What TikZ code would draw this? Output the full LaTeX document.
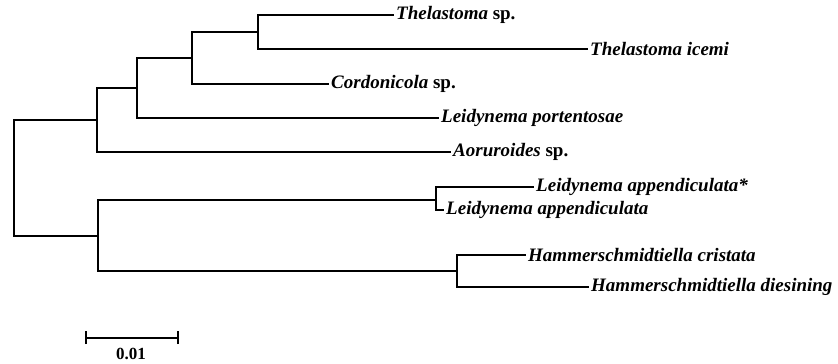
\documentclass[tikz,border=0pt]{standalone}
\usepackage{fontspec}
\setmainfont{Liberation Serif}
\begin{document}
\begin{tikzpicture}[x=1pt,y=-1pt,
  branch/.style={line width=2.4pt,line cap=rect},
  leaf/.style={anchor=west,inner xsep=3pt,inner ysep=0pt,font=\fontsize{19}{22}\selectfont\bfseries\itshape},
  scalelbl/.style={font=\fontsize{17}{20}\selectfont\bfseries}]
\useasboundingbox (0,0) rectangle (838,364);
% internal nodes
\coordinate (root) at (14,178);
\coordinate (nA) at (97,120);
\coordinate (nB) at (137,88);
\coordinate (nC) at (192,58);
\coordinate (nD) at (258,32);
\coordinate (nE) at (98,236);
\coordinate (nF) at (436,200);
\coordinate (nG) at (457,271);
% leaves
\node[leaf] (t1) at (393,15) {Thelastoma \textup{sp.}};
\node[leaf] (t2) at (587,49) {Thelastoma icemi};
\node[leaf] (t3) at (328,84) {Cordonicola \textup{sp.}};
\node[leaf] (t4) at (438,118) {Leidynema portentosae};
\node[leaf] (t5) at (450,152) {Aoruroides \textup{sp.}};
\node[leaf] (t6) at (533,187) {Leidynema appendiculata*};
\node[leaf] (t7) at (443,210) {Leidynema appendiculata};
\node[leaf] (t8) at (525,255) {Hammerschmidtiella cristata};
\node[leaf] (t9) at (588,287) {Hammerschmidtiella diesining};
% branches
\draw[branch] (root) |- (nA);
\draw[branch] (root) |- (nE);
\draw[branch] (nA) |- (nB);
\draw[branch] (nA) |- (t5.west);
\draw[branch] (nB) |- (nC);
\draw[branch] (nB) |- (t4.west);
\draw[branch] (nC) |- (nD);
\draw[branch] (nC) |- (t3.west);
\draw[branch] (nD) |- (t1.west);
\draw[branch] (nD) |- (t2.west);
\draw[branch] (nE) |- (nF);
\draw[branch] (nE) |- (nG);
\draw[branch] (nF) |- (t6.west);
\draw[branch] (nF) |- (t7.west);
\draw[branch] (nG) |- (t8.west);
\draw[branch] (nG) |- (t9.west);
% scale bar
\coordinate (sbL) at (86,338);
\coordinate (sbR) at (178,338);
\draw[branch,line cap=butt] (sbL) -- (sbR);
\draw[branch,line cap=butt] ([yshift=-6]sbL) -- ([yshift=7]sbL);
\draw[branch,line cap=butt] ([yshift=-6]sbR) -- ([yshift=7]sbR);
\node[scalelbl,anchor=center] (sblbl) at (131,354) {0.01};
\end{tikzpicture}
\end{document}
